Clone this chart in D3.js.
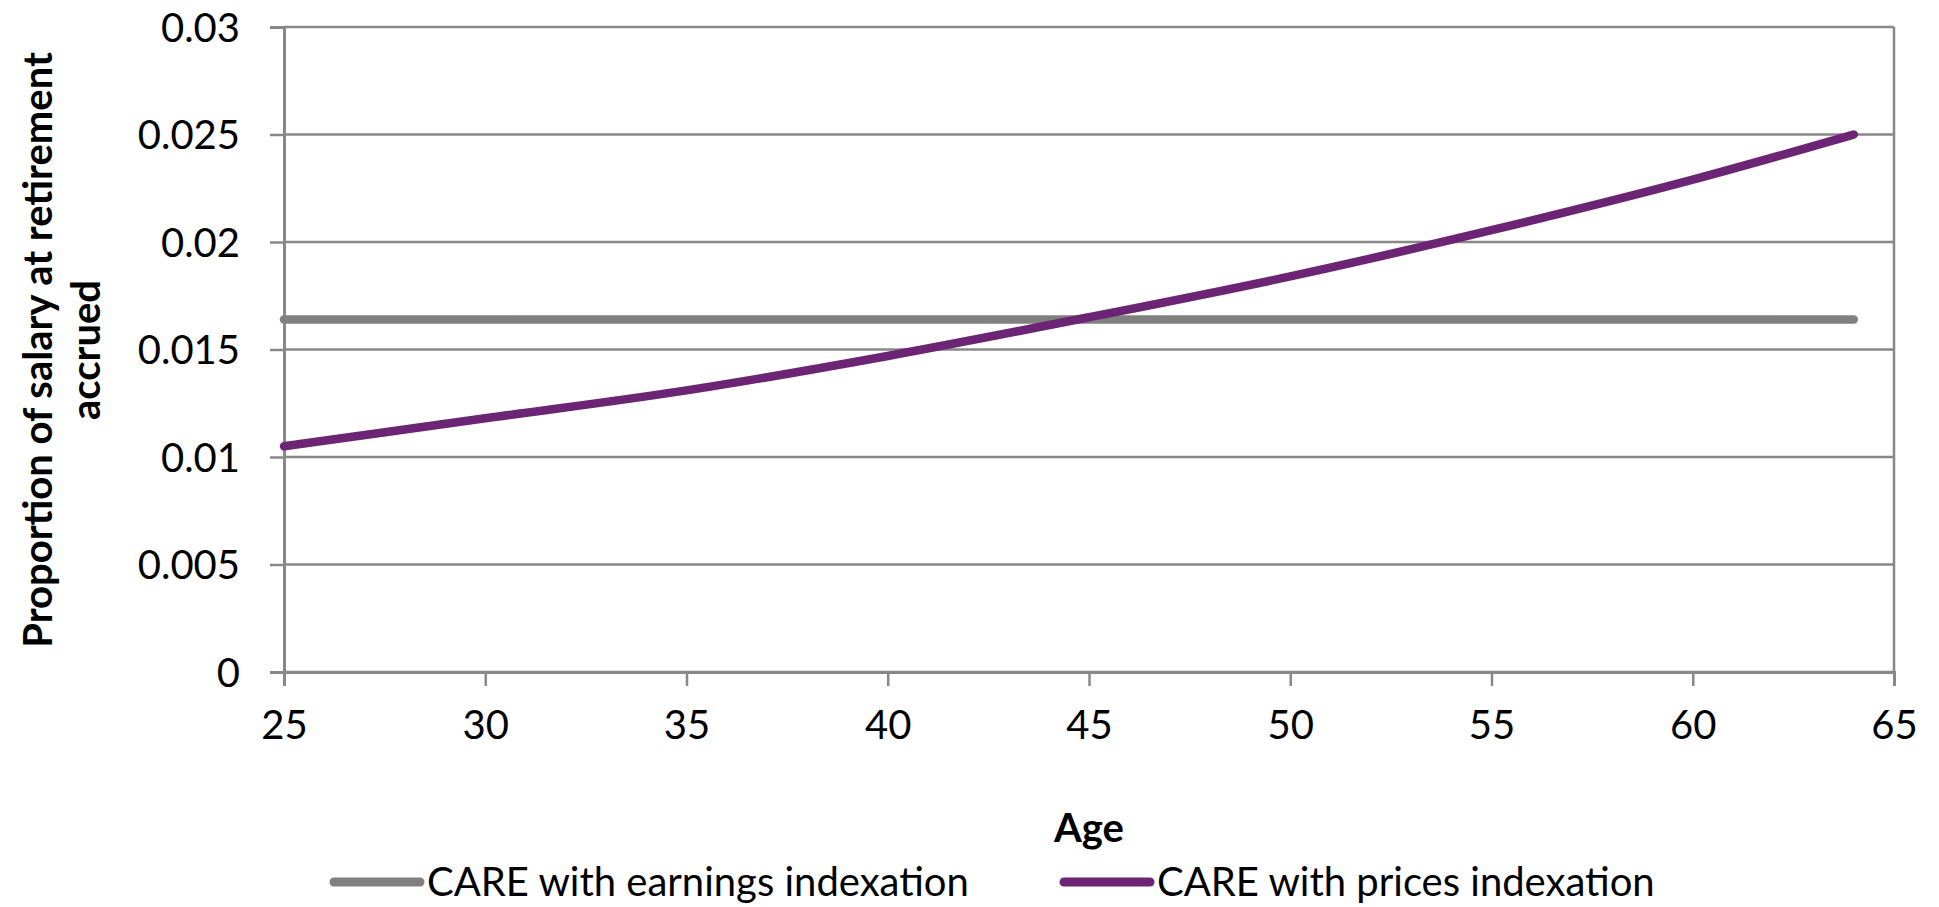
<!DOCTYPE html>
<html>
<head>
<meta charset="utf-8">
<script src="https://d3js.org/d3.v7.min.js"></script>
<style>
  body { margin: 0; background: #fff; }
  text { font-family: Lato, "Open Sans", sans-serif; fill: #000; }
</style>
</head>
<body>
<div id="chart"></div>
<script>
/* Data */
var ages = [25, 30, 35, 40, 45, 50, 55, 60, 64];
var earnings = [0.0164, 0.0164, 0.0164, 0.0164, 0.0164, 0.0164, 0.0164, 0.0164, 0.0164];
var prices = [0.0105, 0.0118, 0.0131, 0.0147, 0.0165, 0.0184, 0.02055, 0.0229, 0.0250];
var xTicks = [25, 30, 35, 40, 45, 50, 55, 60, 65];
var yTicks = [0, 0.005, 0.01, 0.015, 0.02, 0.025, 0.03];
var seriesNames = ["CARE with earnings indexation", "CARE with prices indexation"];
var colors = ["#808080", "#6b2574"];

/* Dimensions */
var W = 1939, H = 907;
var margin = {top: 27, right: 45, bottom: 235, left: 284};
var width = W - margin.left - margin.right,
    height = H - margin.top - margin.bottom;

var svg = d3.select("#chart").append("svg").attr("width", W).attr("height", H);
var g = svg.append("g").attr("transform", "translate(" + margin.left + "," + margin.top + ")");

var x = d3.scaleLinear().domain([25, 65]).range([0, width]);
var y = d3.scaleLinear().domain([0, 0.03]).range([height, 0]);

/* Gridlines */
g.selectAll(".grid")
  .data(yTicks)
  .enter().append("line")
    .attr("x1", 0).attr("x2", width)
    .attr("y1", function(d) { return y(d); })
    .attr("y2", function(d) { return y(d); })
    .attr("stroke", "#888").attr("stroke-width", 2.5);

g.append("line")
  .attr("x1", width).attr("x2", width).attr("y1", 0).attr("y2", height)
  .attr("stroke", "#888").attr("stroke-width", 2.5);

/* Axes */
var xAxis = g.append("g")
    .attr("transform", "translate(0," + height + ")")
    .call(d3.axisBottom(x).tickValues(xTicks).tickSize(14).tickPadding(25).tickFormat(d3.format("d")));

var yAxis = g.append("g")
    .call(d3.axisLeft(y).tickValues(yTicks).tickSize(14).tickPadding(30).tickFormat(function(d) { return d === 0 ? "0" : String(+d.toFixed(3)); }));

[xAxis, yAxis].forEach(function(a) {
  a.select(".domain").attr("stroke", "#888").attr("stroke-width", 3);
  a.selectAll(".tick line").attr("stroke", "#888").attr("stroke-width", 2.5);
  a.selectAll(".tick text").style("font-size", "40px").attr("fill", "#000");
});
yAxis.selectAll(".tick text").attr("dy", "0.36em");

/* Lines */
var line = d3.line()
    .x(function(d) { return x(d[0]); })
    .y(function(d) { return y(d[1]); })
    .curve(d3.curveMonotoneX);

[earnings, prices].forEach(function(s, i) {
  g.append("path")
    .datum(ages.map(function(a, j) { return [a, s[j]]; }))
    .attr("fill", "none")
    .attr("stroke", colors[i])
    .attr("stroke-width", 8.5)
    .attr("stroke-linecap", "round")
    .attr("d", line);
});

/* Axis titles */
svg.append("text")
  .attr("x", margin.left + width / 2).attr("y", 842)
  .attr("text-anchor", "middle")
  .style("font-size", "40px").style("font-weight", "bold")
  .text("Age");

var yt = svg.append("text")
  .attr("transform", "translate(0,350) rotate(-90)")
  .attr("text-anchor", "middle")
  .style("font-size", "40px").style("font-weight", "bold");
yt.append("tspan").attr("x", 0).attr("y", 52).text("Proportion of salary at retirement");
yt.append("tspan").attr("x", 0).attr("y", 100).text("accrued");

/* Legend */
var legendX = [330, 1060];
var leg = svg.selectAll(".legend")
  .data(seriesNames)
  .enter().append("g")
    .attr("transform", function(d, i) { return "translate(" + legendX[i] + ",882)"; });

leg.append("line")
  .attr("x1", 4).attr("x2", 90)
  .attr("stroke", function(d, i) { return colors[i]; })
  .attr("stroke-width", 9).attr("stroke-linecap", "round");

leg.append("text")
  .attr("x", 97).attr("dy", "0.36em")
  .style("font-size", "40px")
  .text(function(d) { return d; });
</script>
</body>
</html>
